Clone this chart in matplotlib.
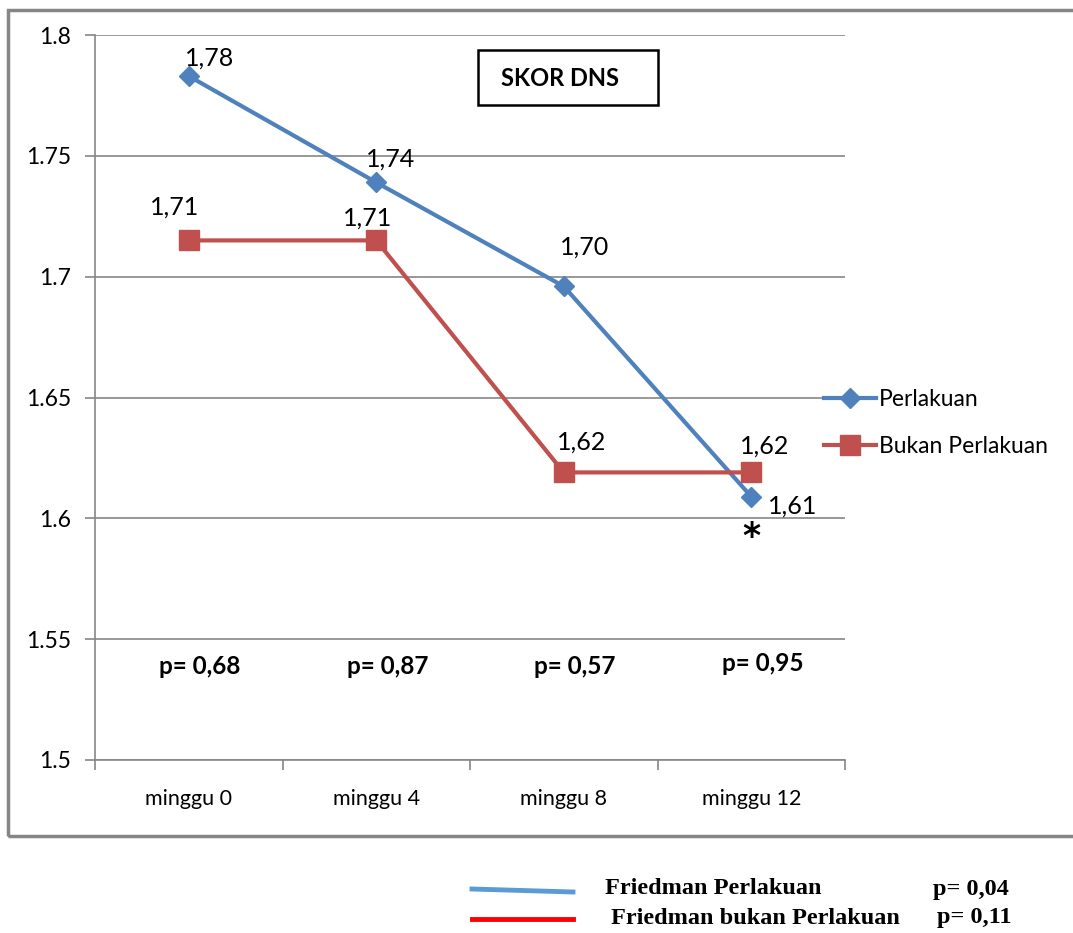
import matplotlib.pyplot as plt
from matplotlib.patches import Rectangle
from matplotlib.lines import Line2D

weeks = ['minggu 0', 'minggu 4', 'minggu 8', 'minggu 12']
perlakuan = [1.783, 1.739, 1.696, 1.609]
bukan = [1.715, 1.715, 1.619, 1.619]
lbl_perlakuan = ['1,78', '1,74', '1,70', '1,61']
lbl_bukan = ['1,71', '1,71', '1,62', '1,62']
p_values = ['p= 0,68', 'p= 0,87', 'p= 0,57', 'p= 0,95']
p_y = [1.5385, 1.5385, 1.5385, 1.540]

blue = '#4F81BD'
red = '#C0504D'
grid_c = '#868686'

plt.rcParams['font.family'] = ['Lato', 'DejaVu Sans']

fig = plt.figure(figsize=(10.73, 9.33), dpi=100)
ax = fig.add_axes([95/1073, 1-760/933, 750/1073, 725/933])

x = range(len(weeks))
ax.plot(x, perlakuan, color=blue, lw=3, marker='D', ms=10, label='Perlakuan', zorder=3)
ax.plot(x, bukan, color=red, lw=3, marker='s', ms=14, label='Bukan Perlakuan', zorder=3)

# data labels (offsets in points)
off_p = [(15, 13), (10, 17), (15, 28), (30, -7)]
off_b = [(-10, 24), (-6, 16), (13, 22), (10, 19)]
for i in x:
    ax.annotate(lbl_perlakuan[i], (i, perlakuan[i]), xytext=off_p[i], textcoords='offset points',
                ha='center', va='center', fontsize=18)
    ax.annotate(lbl_bukan[i], (i, bukan[i]), xytext=off_b[i], textcoords='offset points',
                ha='center', va='center', fontsize=18)
    ax.text(i + 0.06, p_y[i], p_values[i], ha='center', va='center', fontsize=17.5, fontweight='bold')
ax.annotate('*', (3, perlakuan[3]), xytext=(0, -29), textcoords='offset points',
            ha='center', va='center', fontsize=25, fontweight='bold', family='DejaVu Sans')

ax.set_xlim(-0.5, 3.5)
ax.set_ylim(1.5, 1.8)
ax.set_yticks([1.5, 1.55, 1.6, 1.65, 1.7, 1.75, 1.8])
ax.set_yticklabels(['1.5', '1.55', '1.6', '1.65', '1.7', '1.75', '1.8'])
ax.set_xticks([0, 1, 2, 3])
ax.set_xticklabels(weeks)
ax.set_xticks([-0.5, 0.5, 1.5, 2.5, 3.5], minor=True)
ax.tick_params(axis='x', which='major', length=0, pad=21, labelsize=15.5)
ax.tick_params(axis='x', which='minor', length=7, width=1.2, color=grid_c, direction='out')
ax.tick_params(axis='y', length=7, width=1.2, color=grid_c, labelsize=16.5, pad=10)
ax.yaxis.grid(True, color=grid_c, lw=1.2)
for s in ['top', 'right']:
    ax.spines[s].set_visible(False)
for s in ['left', 'bottom']:
    ax.spines[s].set_color(grid_c)
    ax.spines[s].set_linewidth(1.2)

# title box
fig.patches.append(Rectangle((478/1073, 1-105/933), 180/1073, 55/933, transform=fig.transFigure,
                             fc='white', ec='black', lw=1.8, zorder=5))
fig.text(560/1073, 1-78/933, 'SKOR DNS', ha='center', va='center',
         fontsize=17, fontweight='bold', zorder=6)

leg = fig.legend(loc='center left', bbox_to_anchor=(803/1073, 1-423/933), frameon=False,
                 fontsize=16.5, handlelength=2.3, labelspacing=1.15, handletextpad=0.1)

# outer chart frame
fig.patches.append(Rectangle((8/1073, 1-836/933), 1.1, 826/933, transform=fig.transFigure,
                             fill=False, ec=grid_c, lw=2.5))

# Friedman notes
fig.add_artist(Line2D([472/1073, 573/1073], [1-889/933, 1-892/933], color='#5B9BD5', lw=3.5,
                      transform=fig.transFigure))
fig.add_artist(Line2D([472/1073, 573/1073], [1-919/933, 1-919/933], color='#FF0000', lw=3.5,
                      transform=fig.transFigure))
serif = dict(family='Liberation Serif', fontweight='bold', fontsize=17.5, va='center')
fig.text(605/1073, 1-889/933, 'Friedman Perlakuan', **serif)
fig.text(933/1073, 1-889/933, 'p= 0,04', **serif)
fig.text(611/1073, 1-918/933, 'Friedman bukan Perlakuan', **serif)
fig.text(937/1073, 1-918/933, 'p= 0,11', **serif)

fig.savefig('out.png', dpi=100)
